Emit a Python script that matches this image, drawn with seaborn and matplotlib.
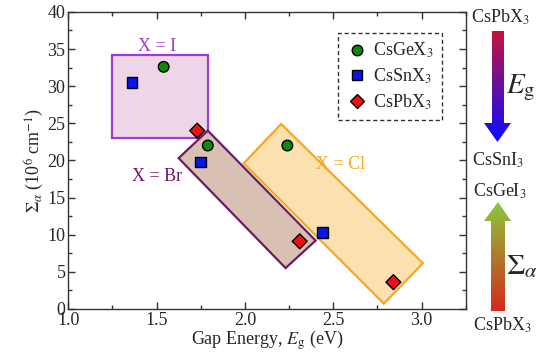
import numpy as np
import pandas as pd
import seaborn as sns
import matplotlib.pyplot as plt
from matplotlib.patches import Polygon
from matplotlib.colors import LinearSegmentedColormap
from matplotlib.ticker import MultipleLocator, FormatStrFormatter

# data
halides = ["I", "Br", "Cl"]
eg_ge = [1.54, 1.79, 2.24]
sig_ge = [32.6, 22.0, 22.0]
eg_sn = [1.36, 1.75, 2.44]
sig_sn = [30.5, 19.8, 10.3]
eg_pb = [1.73, 2.31, 2.84]
sig_pb = [24.0, 9.1, 3.6]
compounds = ["CsGeX$_3$", "CsSnX$_3$", "CsPbX$_3$"]

# shaded regions (corners in data units)
box_i = [(1.25, 23.0), (1.79, 23.0), (1.79, 34.2), (1.25, 34.2)]
box_br = [(1.79, 24.0), (1.625, 20.3), (2.23, 5.5), (2.40, 9.2)]
box_cl = [(2.205, 24.9), (1.993, 19.6), (2.786, 0.7), (3.007, 6.15)]

df = pd.DataFrame({
    "Eg": eg_ge + eg_sn + eg_pb,
    "Sigma": sig_ge + sig_sn + sig_pb,
    "compound": [compounds[0]] * 3 + [compounds[1]] * 3 + [compounds[2]] * 3,
})

sns.set_theme(style="ticks")
plt.rcParams["font.family"] = ["Liberation Serif", "DejaVu Serif"]
plt.rcParams["mathtext.fontset"] = "stix"
plt.rcParams["xtick.direction"] = "in"
plt.rcParams["ytick.direction"] = "in"

fig = plt.figure(figsize=(5.5, 3.6), dpi=100)
ax = fig.add_axes([0.124, 0.142, 0.723, 0.825])

# regions
ax.add_patch(Polygon(box_i, closed=True, facecolor="#efd5e8", edgecolor="#a23bd6", lw=1.6, zorder=1))
ax.add_patch(Polygon(box_br, closed=True, facecolor="#d8c1b3", edgecolor="#6e1a63", lw=1.6, zorder=1))
ax.add_patch(Polygon(box_cl, closed=True, facecolor="#fbe0b0", edgecolor="#f8a81c", lw=1.6, zorder=1))

ax.text(1.50, 35.3, "X = I", color="#a23bd6", fontsize=13, ha="center", va="center")
ax.text(1.50, 17.8, "X = Br", color="#6e1a63", fontsize=13, ha="center", va="center")
ax.text(2.54, 19.4, "X = Cl", color="#f8a81c", fontsize=13, ha="center", va="center")

sns.scatterplot(data=df, x="Eg", y="Sigma", hue="compound", style="compound",
                palette={compounds[0]: "#0a8a0a", compounds[1]: "#0a14f0", compounds[2]: "#f01010"},
                markers={compounds[0]: "o", compounds[1]: "s", compounds[2]: "D"},
                s=58, edgecolor="black", linewidth=1.0, zorder=3, ax=ax)

leg = ax.legend(loc="upper right", bbox_to_anchor=(0.962, 0.96), fontsize=13,
                frameon=True, fancybox=False, edgecolor="black", handletextpad=0.3,
                borderpad=0.45, labelspacing=0.35, handlelength=1.2)
leg.get_frame().set_linestyle((0, (3, 2)))
leg.get_frame().set_linewidth(1.0)

ax.set_xlim(1.0, 3.25)
ax.set_ylim(0, 40)
ax.xaxis.set_major_locator(MultipleLocator(0.5))
ax.xaxis.set_minor_locator(MultipleLocator(0.25))
ax.xaxis.set_major_formatter(FormatStrFormatter("%.1f"))
ax.yaxis.set_major_locator(MultipleLocator(5))
ax.yaxis.set_minor_locator(MultipleLocator(2.5))
ax.tick_params(which="both", top=True, right=True, labelsize=13, width=1.0, color="#333333")
ax.tick_params(which="major", length=5, pad=2)
ax.tick_params(which="minor", length=3)
for sp in ax.spines.values():
    sp.set_linewidth(1.0)
    sp.set_color("#333333")
ax.set_xlabel("Gap Energy, $E_\\mathrm{g}$ (eV)", fontsize=13, labelpad=0)
ax.set_ylabel("$\\Sigma_\\alpha$ (10$^6$ cm$^{-1}$)", fontsize=13, labelpad=1)

# right-hand gradient arrows, in pixel coordinates
ov = fig.add_axes([0, 0, 1, 1])
ov.set_xlim(0, 550)
ov.set_ylim(360, 0)
ov.axis("off")

def grad_arrow(pts, c_top, c_bot, y0, y1):
    poly = Polygon(pts, closed=True, facecolor="none", edgecolor="none")
    ov.add_patch(poly)
    cmap = LinearSegmentedColormap.from_list("g", [c_top, c_bot])
    grad = np.linspace(0, 1, 256).reshape(-1, 1)
    im = ov.imshow(grad, cmap=cmap, aspect="auto", extent=(480, 515, y1, y0), origin="upper")
    im.set_clip_path(poly)

grad_arrow([(492, 31), (504, 31), (504, 123), (511, 123), (497.5, 142), (484, 123), (492, 123)],
           "#c4143c", "#0a0aff", 31, 142)
grad_arrow([(491, 311), (505, 311), (505, 221), (511, 221), (498, 202), (484, 221), (491, 221)],
           "#8cc83c", "#d42a1e", 202, 311)

ov.text(500, 17, "CsPbX$_3$", fontsize=13, ha="center", va="center")
ov.text(521, 88, "$E_\\mathrm{g}$", fontsize=21, ha="center", va="center")
ov.text(498, 160, "CsSnI$_3$", fontsize=13, ha="center", va="center")
ov.text(500, 191, "CsGeI$_3$", fontsize=13, ha="center", va="center")
ov.text(522, 267, "$\\Sigma_\\alpha$", fontsize=21, ha="center", va="center")
ov.text(502, 325, "CsPbX$_3$", fontsize=13, ha="center", va="center")

fig.savefig("out.png", dpi=100)
